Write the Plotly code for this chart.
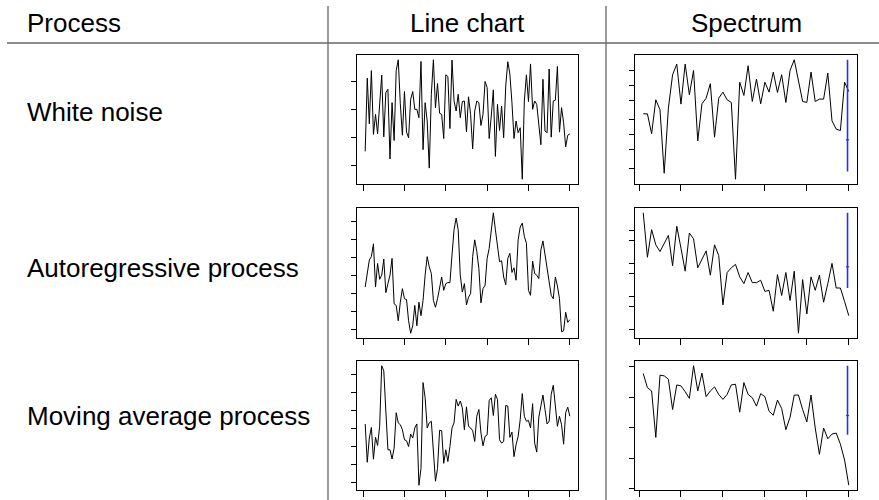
import plotly.graph_objects as go
import math

# ---- data -------------------------------------------------------------
time_index = list(range(1, 101))
frequency = [k / 100 for k in range(1, 51)]

white_noise = [
    -1.51, 1.12, -0.52, 1.39, -0.90, -0.18, -0.88, 0.18, 1.23, -0.99,
    0.60, 0.72, -1.78, 0.24, -1.12, 1.39, 1.78, 0.20, -0.93, 0.64,
    -0.82, -1.02, 0.36, 0.64, 0.00, 0.00, -0.30, 1.72, -1.45, 0.24,
    -0.42, -2.11, 0.54, 1.78, 0.06, 0.93, -0.14, -0.18, -1.05, 1.24,
    1.18, -0.69, 1.77, 0.30, -0.06, 0.54, -0.30, 0.28, 0.30, -0.81,
    0.45, -0.18, -1.42, -0.06, 0.30, 0.24, -0.58, -0.18, 1.00, 0.78,
    -1.05, -0.24, 0.70, -1.69, 0.18, -0.76, 0.12, -1.02, 0.84, 1.71,
    1.27, 0.24, -1.05, -0.42, -0.84, -0.66, -2.51, 0.30, 1.24, 0.28,
    1.63, 0.00, 0.30, 0.18, -0.48, -1.27, 1.08, -0.78, -0.84, 1.45,
    -1.00, 0.30, 0.33, 1.54, -0.82, 0.06, -0.48, -1.35, -0.93, -0.88,
]

autoregressive = [
    -0.62, 0.13, 0.88, 1.07, 1.78, -0.62, 0.69, -0.19, 0.04, 0.93,
    -0.93, -0.43, 0.04, 0.97, -1.55, -1.64, -2.49, -1.46, -0.71, -1.27,
    -1.31, -2.49, -3.18, -2.77, -1.64, -2.77, -1.46, -2.21, -1.36, 0.04,
    1.07, 0.50, 0.13, -1.36, -1.74, -1.27, -0.71, -0.06, -0.80, -0.43,
    -0.37, -0.37, 1.16, 2.56, 3.21, 2.56, 0.04, -0.90, -0.43, -1.61,
    -1.18, -0.99, 1.07, 2.00, 1.35, 0.41, -1.50, -0.71, -0.52, 0.97,
    1.53, 2.47, 3.50, 2.56, 1.53, 0.79, 0.84, -0.06, -0.49, 0.97,
    1.25, 0.19, 0.45, -0.24, 2.00, 2.71, 2.93, 2.19, 1.81, -0.80,
    -1.08, 0.82, 0.13, 0.04, -0.15, 1.44, 1.94, 1.16, 0.32, -0.43,
    -1.08, -1.27, -0.06, -0.56, -1.27, -3.10, -3.05, -2.02, -2.58, -2.43,
]

moving_average = [
    0.26, -1.86, -0.52, 0.07, -1.69, -0.48, -0.93, 0.13, 3.48, 3.20,
    0.97, -1.17, -1.17, -1.68, -1.08, 0.88, 0.32, 0.22, -0.06, -0.61,
    -0.67, -0.99, -0.30, -0.52, 0.04, 0.26, -3.13, -2.20, 2.55, 1.71,
    0.04, 0.32, 0.41, -1.45, -2.91, -2.20, -0.09, -0.11, -1.92, -1.17,
    -1.82, -0.99, 0.04, 0.32, 1.62, 1.25, 1.53, 1.15, -0.06, 1.21,
    0.13, 0.04, -0.11, -0.71, 0.69, 1.06, -0.24, -0.95, -0.43, -0.34,
    1.56, 1.71, 0.73, 1.90, 1.62, -0.61, -0.80, -0.71, 1.28, 1.25,
    -0.48, -0.19, -1.55, -0.89, -0.43, 0.50, 1.94, 0.69, 0.41, 0.45,
    0.04, 1.38, -0.80, -1.30, 0.63, 1.25, 1.86, 1.06, 0.26, 0.41,
    1.90, 2.40, 1.43, 0.13, 0.69, 0.22, -0.86, 0.88, 1.19, 0.69,
]

spec_white_noise = [
    0.265, 0.265, 0.104, 0.512, 0.320, 0.0163, 0.346, 1.66, 2.74, 0.418,
    2.74, 0.647, 2.03, 0.0745, 0.424, 0.553, 1.09, 0.0885, 0.553, 0.734,
    0.512, 0.452, 0.0123, 1.17, 0.628, 2.53, 0.473, 1.35, 0.424, 1.17,
    0.734, 1.88, 0.723, 1.66, 0.452, 2.03, 3.35, 1.21, 0.473, 0.452,
    1.88, 0.473, 0.529, 0.529, 1.79, 0.191, 0.129, 0.121, 1.17, 0.757,
]

spec_autoregressive = [
    33.9, 1.53, 10.5, 3.64, 2.28, 4.10, 7.03, 0.849, 13.3, 2.88,
    0.582, 8.28, 5.56, 0.736, 1.26, 2.39, 0.440, 3.64, 1.72, 0.0556,
    0.530, 0.736, 0.932, 0.391, 0.244, 0.530, 0.262, 0.262, 0.309, 0.142,
    0.153, 0.0356, 0.460, 0.107, 0.530, 0.0755, 0.582, 0.00773, 0.324, 0.0295,
    0.391, 0.153, 0.440, 0.0671, 0.244, 1.00, 0.180, 0.180, 0.0703, 0.0262,
]

spec_moving_average = [
    5.88, 2.03, 1.58, 0.048, 5.18, 4.92, 3.82, 0.392, 2.49, 2.31,
    1.50, 0.904, 10.5, 1.58, 6.03, 1.03, 1.58, 2.14, 1.22, 0.838,
    1.22, 2.49, 2.62, 0.320, 2.97, 1.22, 0.951, 0.505, 1.29, 1.03,
    0.345, 0.255, 0.796, 0.423, 0.0859, 0.219, 1.16, 1.16, 0.392, 0.154,
    1.16, 0.0975, 0.0135, 0.0975, 0.0434, 0.0618, 0.0667, 0.029, 0.00881, 0.00132,
]

# 95% confidence bar for each spectrum: lower, centre, upper
ci_white_noise = [0.0177, 0.078, 3.35]
ci_autoregressive = [0.18, 0.79, 33.9]
ci_moving_average = [0.0588, 0.249, 10.5]
spectral_bandwidth = 0.0075
ci_frequency = 0.497

process_names = ["White noise", "Autoregressive process", "Moving average process"]
column_titles = ["Process", "Line chart", "Spectrum"]

series_ticks = [
    [-2, -1, 0, 1],
    [-3, -2, -1, 0, 1, 2, 3],
    [-3, -2, -1, 0, 1, 2, 3],
]
spectrum_ticks = [
    [0.02, 0.05, 0.1, 0.2, 0.5, 1, 2],
    [0.01, 0.05, 0.1, 0.5, 1, 5, 10],
    [0.001, 0.01, 0.1, 1, 10],
]
time_ticks = [0, 20, 40, 60, 80, 100]
freq_ticks = [0, 0.1, 0.2, 0.3, 0.4, 0.5]

# ---- layout geometry (pixels of a 879 x 500 page) ---------------------
W, H = 879, 500
line_col = (357, 578)
spec_col = (635, 857)
rows = [(55, 184), (208, 338), (361, 490)]
label_y = [112, 268, 416]
rule_y = 43
divider_x = [328, 606]
FONT = "Liberation Sans"
CI_BLUE = "#2b2bff"


def px_x(v):
    return v / W


def px_y(v):
    return 1 - v / H


def padded(lo, hi, frac=0.04):
    d = (hi - lo) * frac
    return [lo - d, hi + d]


series = [white_noise, autoregressive, moving_average]
spectra = [spec_white_noise, spec_autoregressive, spec_moving_average]
cis = [ci_white_noise, ci_autoregressive, ci_moving_average]

fig = go.Figure()
layout = {}
axis_style = dict(
    showline=True, mirror=True, linecolor="black", linewidth=1,
    ticks="outside", ticklen=6, tickwidth=1, tickcolor="black",
    showticklabels=False, showgrid=False, zeroline=False, fixedrange=True,
)

for r in range(3):
    top, bottom = rows[r]
    ydom = [px_y(bottom), px_y(top)]

    # time series panel
    n = 2 * r + 1
    xa, ya = f"x{n}", f"y{n}"
    fig.add_trace(go.Scatter(
        x=time_index, y=series[r], mode="lines",
        line=dict(color="black", width=1),
        xaxis=xa, yaxis=ya, showlegend=False, hoverinfo="skip",
    ))
    layout[f"xaxis{n}"] = dict(
        axis_style, domain=[px_x(line_col[0]), px_x(line_col[1])],
        range=padded(min(time_index), max(time_index)),
        tickvals=time_ticks, anchor=ya,
    )
    layout[f"yaxis{n}"] = dict(
        axis_style, domain=ydom, ticklen=5,
        range=padded(min(series[r]), max(series[r])),
        tickvals=series_ticks[r], anchor=xa,
    )

    # spectrum panel (log scale)
    n = 2 * r + 2
    xa, ya = f"x{n}", f"y{n}"
    fig.add_trace(go.Scatter(
        x=frequency, y=spectra[r], mode="lines",
        line=dict(color="black", width=1),
        xaxis=xa, yaxis=ya, showlegend=False, hoverinfo="skip",
    ))
    lo, mid, hi = cis[r]
    # confidence interval: vertical bar plus a short bandwidth crossbar
    fig.add_trace(go.Scatter(
        x=[ci_frequency, ci_frequency], y=[lo, hi], mode="lines",
        line=dict(color=CI_BLUE, width=1.6),
        xaxis=xa, yaxis=ya, showlegend=False, hoverinfo="skip",
    ))
    fig.add_trace(go.Scatter(
        x=[ci_frequency - spectral_bandwidth / 2, ci_frequency + spectral_bandwidth / 2],
        y=[mid, mid], mode="lines",
        line=dict(color=CI_BLUE, width=1.2),
        xaxis=xa, yaxis=ya, showlegend=False, hoverinfo="skip",
    ))
    lmin = math.log10(min(spectra[r] + [lo]))
    lmax = math.log10(max(spectra[r] + [hi]))
    layout[f"xaxis{n}"] = dict(
        axis_style, domain=[px_x(spec_col[0]), px_x(spec_col[1])],
        range=padded(min(frequency), max(frequency)),
        tickvals=freq_ticks, anchor=ya,
    )
    layout[f"yaxis{n}"] = dict(
        axis_style, domain=ydom, type="log", ticklen=5,
        range=padded(lmin, lmax),
        tickvals=spectrum_ticks[r], anchor=xa,
    )

# ---- table text and rules ---------------------------------------------
annotations = []
title_x = [(25, "left"), (sum(line_col) / 2, "center"), (sum(spec_col) / 2, "center")]
for (x, anchor), text in zip(title_x, column_titles):
    annotations.append(dict(
        x=px_x(x), y=px_y(22.5), xref="paper", yref="paper",
        text=text, showarrow=False, xanchor=anchor, yanchor="middle",
        font=dict(family=FONT, size=26, color="black"),
    ))
for yc, name in zip(label_y, process_names):
    annotations.append(dict(
        x=px_x(25), y=px_y(yc), xref="paper", yref="paper",
        text=name, showarrow=False, xanchor="left", yanchor="middle",
        font=dict(family=FONT, size=26, color="black"),
    ))

shapes = [dict(
    type="line", xref="paper", yref="paper",
    x0=px_x(7), x1=1, y0=px_y(rule_y), y1=px_y(rule_y),
    line=dict(color="#666666", width=1.3),
)]
for dx in divider_x:
    shapes.append(dict(
        type="line", xref="paper", yref="paper",
        x0=px_x(dx), x1=px_x(dx), y0=px_y(6), y1=0,
        line=dict(color="#666666", width=1.3),
    ))

fig.update_layout(
    width=W, height=H, margin=dict(l=0, r=0, t=0, b=0),
    paper_bgcolor="white", plot_bgcolor="white",
    annotations=annotations, shapes=shapes, showlegend=False,
    **layout,
)

fig.write_html("out.html", config={"displayModeBar": False})
